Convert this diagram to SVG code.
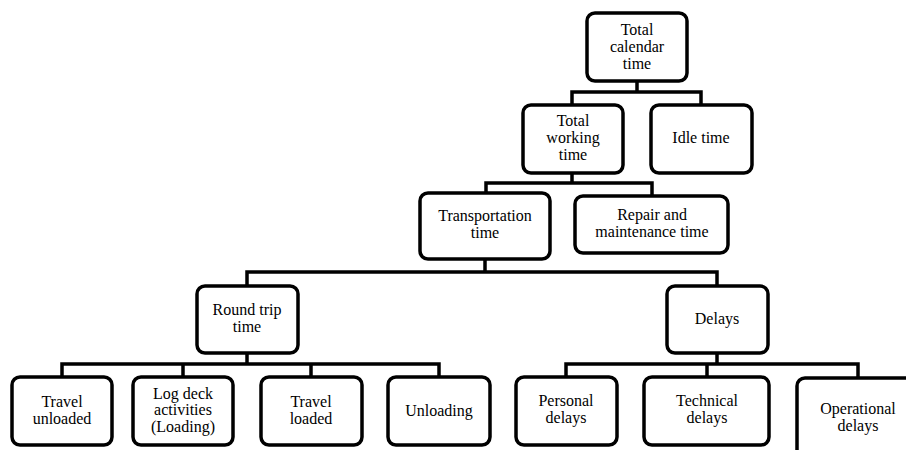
<svg xmlns="http://www.w3.org/2000/svg" width="906" height="450" viewBox="0 0 906 450">
<style>
.box{fill:#fff;stroke:#000;stroke-width:3.5}
.con{fill:none;stroke:#000;stroke-width:3.5;stroke-linejoin:miter}
.t{font-family:'Liberation Serif','Times New Roman','DejaVu Serif',serif;font-size:16px;fill:#000;text-anchor:middle}
</style>
<rect width="906" height="450" fill="#fff"/>
<g id="connectors">
<path class="con" d="M637,81 V92 M572,105 V92 H701 V105"/>
<path class="con" d="M572,173 V183 M486,193 V183 H652 V196"/>
<path class="con" d="M485,259 V272 M247,286 V272 H717 V286"/>
<path class="con" d="M247,353 V364 M62,377 V364 H439 V377 M183,364 V377 M311,364 V377"/>
<path class="con" d="M717,353 V364 M566,377 V364 H858 V378 M707,364 V377"/>
</g>
<g class="t" font-family="Liberation Serif, Times New Roman, serif">
<g id="total-calendar-time"><rect class="box" x="587" y="13" width="100" height="68" rx="8"/><text x="637" y="35">Total</text><text x="637" y="52">calendar</text><text x="637" y="69">time</text></g>
<g id="total-working-time"><rect class="box" x="523" y="105" width="100" height="68" rx="8"/><text x="573" y="126">Total</text><text x="573" y="143">working</text><text x="573" y="160">time</text></g>
<g id="idle-time"><rect class="box" x="651" y="105" width="101" height="68" rx="8"/><text x="701" y="143">Idle time</text></g>
<g id="transportation-time"><rect class="box" x="420" y="193" width="130" height="66" rx="8"/><text x="485" y="221">Transportation</text><text x="485" y="238">time</text></g>
<g id="repair-maintenance"><rect class="box" x="575" y="196" width="153" height="57" rx="8"/><text x="652" y="220">Repair and</text><text x="652" y="237">maintenance time</text></g>
<g id="round-trip-time"><rect class="box" x="197" y="286" width="101" height="67" rx="8"/><text x="247" y="315">Round trip</text><text x="247" y="332">time</text></g>
<g id="delays"><rect class="box" x="667" y="286" width="101" height="67" rx="8"/><text x="717" y="324">Delays</text></g>
<g id="travel-unloaded"><rect class="box" x="12" y="377" width="100" height="68" rx="8"/><text x="62" y="407">Travel</text><text x="62" y="424">unloaded</text></g>
<g id="log-deck"><rect class="box" x="133" y="377" width="100" height="68" rx="8"/><text x="183" y="399">Log deck</text><text x="183" y="415">activities</text><text x="183" y="432">(Loading)</text></g>
<g id="travel-loaded"><rect class="box" x="261" y="377" width="101" height="68" rx="8"/><text x="311" y="407">Travel</text><text x="311" y="424">loaded</text></g>
<g id="unloading"><rect class="box" x="388" y="377" width="102" height="68" rx="8"/><text x="439" y="416">Unloading</text></g>
<g id="personal-delays"><rect class="box" x="516" y="377" width="101" height="68" rx="8"/><text x="566" y="406">Personal</text><text x="566" y="423">delays</text></g>
<g id="technical-delays"><rect class="box" x="644" y="377" width="125" height="68" rx="8"/><text x="707" y="406">Technical</text><text x="707" y="423">delays</text></g>
<g id="operational-delays"><rect class="box" x="797" y="378" width="125" height="90" rx="8"/><text x="858" y="414">Operational</text><text x="858" y="431">delays</text></g>
</g>
</svg>
